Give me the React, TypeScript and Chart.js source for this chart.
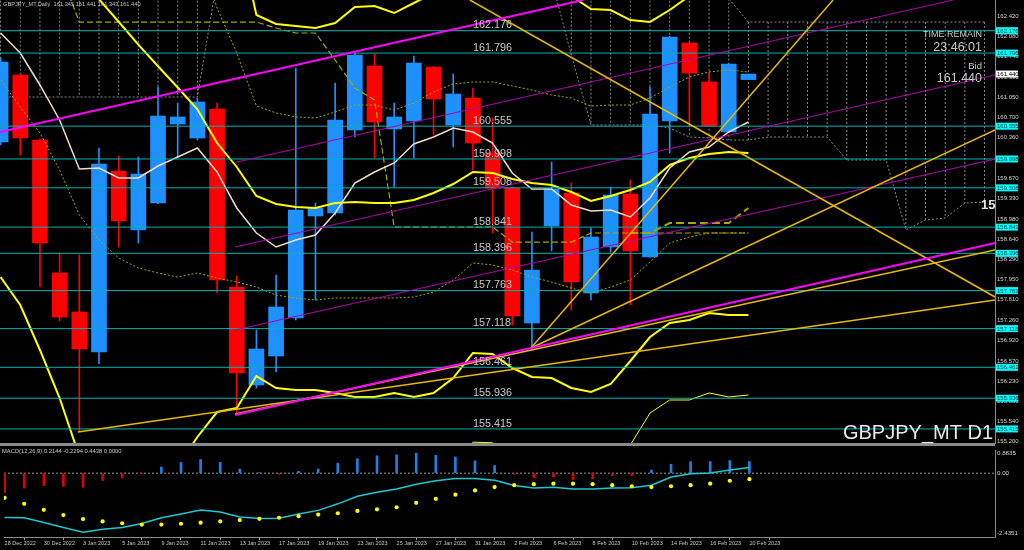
import React, { useEffect, useRef } from "react";
import { Chart, registerables } from "chart.js";
Chart.register(...registerables);

const FONT = "'Liberation Sans', Arial, sans-serif";

// ---------- categories ----------
const dates = ["28 Dec 2022","29 Dec 2022","30 Dec 2022","2 Jan 2023","3 Jan 2023","4 Jan 2023","5 Jan 2023","6 Jan 2023","9 Jan 2023","10 Jan 2023","11 Jan 2023","12 Jan 2023","13 Jan 2023","16 Jan 2023","17 Jan 2023","18 Jan 2023","19 Jan 2023","20 Jan 2023","23 Jan 2023","24 Jan 2023","25 Jan 2023","26 Jan 2023","27 Jan 2023","30 Jan 2023","31 Jan 2023","1 Feb 2023","2 Feb 2023","3 Feb 2023","6 Feb 2023","7 Feb 2023","8 Feb 2023","9 Feb 2023","10 Feb 2023","13 Feb 2023","14 Feb 2023","15 Feb 2023","16 Feb 2023","17 Feb 2023","20 Feb 2023"];

// ---------- OHLC ----------
const opens = [160.286,161.424,160.320,158.062,157.400,156.721,159.794,158.792,159.250,160.592,160.354,160.846,157.824,156.161,156.653,157.298,159.030,159.081,160.490,161.576,160.507,160.643,161.559,160.575,161.033,160.099,159.505,157.213,158.860,159.420,157.722,158.503,159.403,158.334,160.643,161.967,161.305,160.456,161.345];
const highs = [161.712,161.440,160.340,158.402,158.368,160.184,160.048,160.031,161.220,160.948,161.033,160.948,158.011,157.094,158.028,161.542,159.250,161.288,161.797,161.780,160.948,161.746,161.570,161.441,161.203,160.694,159.520,158.758,159.947,159.590,158.826,159.522,159.641,161.220,162.080,161.980,161.475,161.620,161.441];
const lows = [160.235,160.065,157.824,157.247,155.362,156.517,158.504,158.571,159.240,160.031,160.320,157.722,155.651,156.110,156.381,157.264,157.604,159.047,160.371,160.014,159.522,160.014,160.405,160.201,159.811,158.741,157.179,156.755,158.436,157.434,157.604,158.419,157.519,158.330,160.099,160.575,160.550,160.450,161.343];
const closes = [161.644,160.354,158.571,157.315,156.772,159.913,158.945,159.743,160.728,160.711,160.965,157.943,156.364,156.772,157.485,159.132,159.166,160.660,161.763,160.626,160.711,161.627,161.016,161.101,160.269,159.505,157.332,158.111,159.488,157.909,158.673,159.386,158.436,160.761,162.069,161.458,160.558,161.610,161.440];

// ---------- indicators ----------
const maFast = [162.137,161.797,161.254,160.660,159.828,159.845,159.675,159.675,159.879,160.031,160.184,159.777,159.166,158.741,158.503,158.622,158.707,159.081,159.590,159.777,159.930,160.252,160.371,160.524,160.456,160.269,159.760,159.488,159.488,159.217,159.115,159.132,159.013,159.335,159.845,160.116,160.201,160.456,160.626];
const bbMid = [164.56,164.22,163.85,163.46,163.07,162.71,162.328,161.938,161.573,161.211,160.841,160.269,159.862,159.369,159.234,159.183,159.166,159.250,159.268,159.250,159.250,159.301,159.420,159.573,159.777,159.760,159.658,159.590,159.556,159.437,159.284,159.369,159.471,159.607,159.896,160.014,160.082,160.116,160.099];
const bbUp2 = [null,null,null,null,null,null,null,null,null,null,null,164.836,163.953,162.442,162.290,162.256,162.222,162.307,162.578,162.595,162.476,162.646,162.816,162.867,162.850,162.833,162.867,162.884,162.833,162.765,162.544,162.527,162.357,162.324,162.527,162.765,162.782,162.884,162.850];
const bbLow2 = [157.994,157.519,156.755,155.940,154.950,154.530,154.310,154.360,154.550,154.780,155.278,155.702,155.770,156.313,156.110,156.076,156.076,156.025,155.957,155.957,156.025,155.957,156.025,156.279,156.704,156.687,156.449,156.296,156.279,156.110,156.042,156.177,156.568,156.975,157.213,157.264,157.383,157.349,157.349];
const bbUp1 = [null,null,null,null,null,null,null,null,null,null,163.620,162.561,161.797,160.897,160.779,160.711,160.694,160.796,160.914,160.914,160.829,160.948,161.135,161.271,161.305,161.305,161.237,161.169,161.084,161.033,160.897,160.914,160.914,161.033,161.220,161.390,161.475,161.509,161.475];
const bbLow1 = [161.339,160.880,160.439,159.811,159.047,158.622,158.317,158.147,158.062,157.994,158.062,157.977,157.909,157.824,157.688,157.638,157.604,157.638,157.638,157.638,157.638,157.655,157.739,157.943,158.232,158.198,158.113,157.994,157.909,157.807,157.722,157.824,157.943,158.249,158.571,158.673,158.741,158.741,158.741];
const bbLow3 = [null,null,null,null,null,null,null,null,null,null,null,null,null,null,null,null,null,null,null,null,null,null,154.320,154.632,155.190,155.180,154.853,154.650,154.640,154.440,154.420,154.580,155.142,155.685,155.906,155.906,156.025,155.957,155.991];
const kijun = [null,null,null,163.2,162.323,162.323,162.323,162.323,162.323,162.323,162.323,162.323,162.323,162.323,162.222,162.137,162.137,161.678,161.203,161.000,158.843,158.843,158.843,158.843,158.843,158.843,158.588,158.588,158.588,158.588,158.741,158.741,158.741,158.741,158.741,158.741,158.741,158.741,158.741];
const tenkan = [null,null,null,null,null,null,null,null,null,null,null,null,null,null,null,null,null,null,null,null,null,null,null,null,null,null,null,null,null,null,null,null,158.741,158.741,158.911,158.911,158.911,158.911,159.166];
const cloudTop = [163.5,163.5,163.5,163.5,163.5,163.5,163.5,163.5,163.5,163.5,163.5,null,null,null,null,null,null,null,null,null,null,null,null,null,null,null,null,null,163.5,163.5,163.5,163.5,163.5,163.5,163.5,163.5,163.5,162.72,162.323,162.323,162.323,162.323,162.323,162.323,162.323,162.323,162.323,162.323,162.323,162.323,162.323];
const cloudBot = [161.05,161.05,161.05,161.05,161.05,161.05,161.05,161.05,161.05,161.05,161.05,163.04,null,null,null,null,null,null,null,null,null,null,null,null,null,null,null,null,163.04,161.763,160.575,160.575,160.575,160.575,160.524,160.371,160.354,160.320,160.320,160.371,160.371,160.371,160.371,159.980,159.980,159.980,158.792,158.962,158.996,159.250,159.267];

// ---------- horizontal levels & trend lines (bar index, price) ----------
const levels = [162.176,161.796,160.555,159.998,159.508,158.841,158.396,157.763,157.118,156.461,155.936,155.415];
const bidPrice = 161.440;
const magentaThick = [[[-0.03,160.456],[29.59,162.697]],[[11.91,155.651],[50.53,158.571]]];
const magentaThin = [[[11.91,159.938],[48.39,162.697]],[[11.91,158.503],[50.53,161.424]],[[11.91,157.094],[50.53,159.997]]];
const goldLines = [[[11.91,155.668],[50.53,158.452]],[[3.93,155.362],[50.53,157.604]],[[26.95,156.789],[42.30,162.697]],[[26.95,156.789],[50.53,160.490]],[[23.85,162.697],[50.53,157.655]]];

// ---------- MACD ----------
const macdHist = [-0.73,-0.57,-0.47,-0.50,-0.54,-0.28,-0.18,-0.03,0.23,0.41,0.52,0.41,0.15,0.01,-0.04,0.07,0.16,0.38,0.55,0.66,0.70,0.76,0.68,0.62,0.47,0.29,-0.04,-0.18,-0.14,-0.25,-0.21,-0.10,-0.09,0.12,0.34,0.44,0.44,0.48,0.4438];
const macdLine = [-1.69,-1.70,-1.88,-2.07,-2.25,-2.14,-2.07,-1.92,-1.70,-1.56,-1.41,-1.48,-1.67,-1.73,-1.72,-1.56,-1.42,-1.17,-0.88,-0.73,-0.60,-0.42,-0.29,-0.20,-0.20,-0.27,-0.47,-0.57,-0.54,-0.60,-0.60,-0.57,-0.56,-0.46,-0.15,-0.02,0.01,0.12,0.2144];
const macdSignal = [-0.94,-1.17,-1.40,-1.60,-1.75,-1.84,-1.91,-1.96,-1.96,-1.93,-1.89,-1.84,-1.79,-1.74,-1.70,-1.64,-1.58,-1.53,-1.44,-1.38,-1.30,-1.13,-0.98,-0.82,-0.66,-0.53,-0.46,-0.42,-0.40,-0.40,-0.42,-0.46,-0.50,-0.53,-0.50,-0.46,-0.40,-0.29,-0.2294];
const macdAxisValues = [0.8835, 0, -2.4351];
const macdAxisLabels = ["0.8835", "0.00", "-2.4351"];

// ---------- axis ticks / texts ----------
const priceTicks = [162.42,162.08,161.74,161.39,161.05,160.70,160.36,160.01,159.67,159.33,158.98,158.64,158.29,157.95,157.61,157.26,156.92,156.57,156.23,155.88,155.54,155.20];
const dateTickBars = dates.map((_, i) => i).filter((i) => i % 2 === 0);
const headerText = "GBPJPY_MT,Daily  161.345 161.441 161.343 161.440";
const macdTitle = "MACD(12,26,9) 0.2144 -0.2294 0.4438 0.0000";
const symbolText = "GBPJPY_MT D1";
const timeRemainText = ["TIME REMAIN", "23:46:01", "Bid", "161.440"];
const levelLabelBar = 24;

const X_MIN = -0.03, X_MAX = 50.53;
const P_MIN = 155.176, P_MAX = 162.697;
const M_MIN = -2.4351, M_MAX = 0.8835;

const BULL = "#1E90FF", BEAR = "#FF0000";

const pts = (arr: (number | null)[]) => arr.map((y, i) => ({ x: i, y }));
const seg = (s: number[][]) => s.map(([x, y]) => ({ x, y }));
const lineDs = (data: any[], color: string, width: number, order: number, dash: number[] = []) => ({
  type: "line", data, borderColor: color, borderWidth: width, borderDash: dash,
  pointRadius: 0, fill: false, tension: 0, spanGaps: false, order, clip: 0,
});

// clip every dataset strictly to the plot area
const areaClip = {
  id: "areaClip",
  beforeDatasetsDraw(chart: any) {
    const { ctx, chartArea: a } = chart;
    ctx.save();
    ctx.beginPath();
    ctx.rect(a.left, a.top, a.right - a.left, a.bottom - a.top);
    ctx.clip();
  },
  afterDatasetsDraw(chart: any) {
    chart.ctx.restore();
  },
};

function mainConfig(): any {
  const isBull = (i: number) => closes[i] >= opens[i];
  const hatch: any[] = [];
  cloudTop.forEach((t, i) => {
    const b = cloudBot[i];
    if (t != null && b != null) hatch.push({ x: i, y: t }, { x: i, y: b }, { x: i, y: null });
  });
  const datasets: any[] = [
    lineDs(hatch, "#8a8a8a", 1, 120, [2, 2]),
    lineDs(pts(cloudTop), "#8a8a8a", 1, 119, [2, 2]),
    lineDs(pts(cloudBot), "#8a8a8a", 1, 119, [2, 2]),
    {
      type: "bar", data: highs.map((h, i) => ({ x: i, y: [lows[i], h] })),
      backgroundColor: highs.map((_, i) => (isBull(i) ? BULL : BEAR)),
      barThickness: 1, grouped: false, order: 101, clip: 0,
    },
    {
      type: "bar", data: opens.map((o, i) => ({ x: i, y: [o, closes[i]] })),
      backgroundColor: opens.map((_, i) => (isBull(i) ? BULL : BEAR)),
      barThickness: 15, grouped: false, order: 100, clip: 0,
    },
    lineDs(pts(bbUp1), "#A8A800", 1, 80, [2, 2]),
    lineDs(pts(bbLow1), "#A8A800", 1, 80, [2, 2]),
    lineDs(pts(kijun), "#A8A800", 1.2, 79, [6, 3]),
    lineDs(pts(tenkan), "#A8A800", 2, 78, [8, 4]),
    lineDs(pts(bbLow3), "#FFFF00", 1, 75),
    lineDs(pts(bbMid), "#FFFF00", 2, 74),
    lineDs(pts(bbUp2), "#FFFF00", 2, 74),
    lineDs(pts(bbLow2), "#FFFF00", 2, 74),
    lineDs(pts(maFast), "#F2DCC8", 1.5, 73),
    ...levels.map((v) => lineDs([{ x: X_MIN, y: v }, { x: X_MAX, y: v }], "#00B2B2", 1, 60)),
    ...magentaThin.map((s) => lineDs(seg(s), "#B000B0", 1, 52)),
    ...goldLines.map((s) => lineDs(seg(s), "#E8B800", 1.5, 51)),
    ...magentaThick.map((s) => lineDs(seg(s), "#FF00FF", 2, 50)),
  ];

  const decor = {
    id: "mainDecor",
    afterDraw(chart: any) {
      const { ctx, chartArea, scales } = chart;
      const xs = scales.x, ys = scales.y;
      ctx.save();
      ctx.fillStyle = "#8a8a8a";
      ctx.fillRect(0, chartArea.bottom, chartArea.right, 3);

      ctx.textAlign = "left";
      ctx.textBaseline = "alphabetic";
      ctx.fillStyle = "#c8c8c8";
      ctx.font = `10.8px ${FONT}`;
      const lx = xs.getPixelForValue(levelLabelBar);
      levels.forEach((v) => ctx.fillText(v.toFixed(3), lx, ys.getPixelForValue(v) - 2.4));

      ctx.textBaseline = "middle";
      ctx.font = `5.7px ${FONT}`;
      ctx.fillStyle = "#c0c0c0";
      ctx.fillText(headerText, 3, 4.5);

      ctx.textAlign = "right";
      ctx.fillStyle = "#c8c8c8";
      const tr: [number, number][] = [[9, 35], [12.5, 48], [9.5, 66], [12.5, 79]];
      timeRemainText.forEach((t, i) => {
        ctx.font = `${tr[i][0]}px ${FONT}`;
        ctx.fillText(t, 982, tr[i][1]);
      });

      ctx.font = `20px ${FONT}`;
      ctx.fillStyle = "#e8e8e8";
      ctx.textBaseline = "alphabetic";
      ctx.fillText(symbolText, 993, 439);

      ctx.save();
      ctx.beginPath();
      ctx.rect(chartArea.left, chartArea.top, chartArea.right - chartArea.left, chartArea.bottom - chartArea.top);
      ctx.clip();
      ctx.textAlign = "left";
      ctx.textBaseline = "middle";
      ctx.font = `bold 13px ${FONT}`;
      ctx.fillStyle = "#f2ead8";
      ctx.fillText("15", 981, 205);
      ctx.restore();

      ctx.textAlign = "left";
      ctx.textBaseline = "middle";
      ctx.font = `6px ${FONT}`;
      const ax = chartArea.right + 1;
      levels.forEach((v) => {
        const y = ys.getPixelForValue(v);
        ctx.fillStyle = "#00FFFF";
        ctx.fillRect(ax, y - 3.5, 22, 7);
        ctx.fillStyle = "#004040";
        ctx.fillText(v.toFixed(3), ax + 1, y + 0.3);
      });
      const by = ys.getPixelForValue(bidPrice);
      ctx.fillStyle = "#FFFFFF";
      ctx.fillRect(ax, by - 3.5, 22, 7);
      ctx.fillStyle = "#000000";
      ctx.fillText(bidPrice.toFixed(3), ax + 1, by + 0.3);
      ctx.restore();
    },
  };

  return {
    type: "bar",
    data: { datasets },
    plugins: [areaClip, decor],
    options: {
      animation: false, responsive: false, maintainAspectRatio: false, events: [],
      layout: { padding: { left: 0, right: 0, top: 0, bottom: 3 } },
      plugins: { legend: { display: false }, tooltip: { enabled: false } },
      scales: {
        x: {
          type: "linear", min: X_MIN, max: X_MAX, offset: false, display: true, position: "bottom",
          afterFit: (s: any) => { s.height = 0; s.paddingLeft = 0; s.paddingRight = 0; },
          ticks: { display: false },
          grid: { display: false, drawTicks: false },
          border: { display: false },
        },
        y: {
          type: "linear", position: "right", min: P_MIN, max: P_MAX, beginAtZero: false,
          afterBuildTicks: (s: any) => { s.ticks = priceTicks.map((v) => ({ value: v })); },
          afterFit: (s: any) => { s.width = 29; s.paddingTop = 0; s.paddingBottom = 0; },
          ticks: { callback: (v: any) => Number(v).toFixed(3), font: { size: 6, family: FONT }, color: "#d0d0d0", padding: 2, autoSkip: false },
          grid: { display: true, drawOnChartArea: false, drawTicks: false },
          border: { display: true, color: "#8a8a8a", width: 1 },
        },
      },
    },
  };
}

function macdConfig(): any {
  const datasets: any[] = [
    lineDs([{ x: X_MIN, y: 0 }, { x: X_MAX, y: 0 }], "#9a9a9a", 1, 50, [2, 2]),
    {
      type: "bar", data: pts(macdHist),
      backgroundColor: macdHist.map((v) => (v >= 0 ? "#1E7FE6" : "#E00000")),
      barThickness: 2, grouped: false, order: 40, clip: 0,
    },
    lineDs(pts(macdLine), "#1CC8D0", 1.5, 30),
    {
      type: "line", data: pts(macdSignal), showLine: false, pointRadius: 2.1,
      pointBackgroundColor: "#FFFF00", pointBorderWidth: 0, order: 20,
    },
  ];
  const decor = {
    id: "macdDecor",
    afterDraw(chart: any) {
      const { ctx, chartArea, scales } = chart;
      const ys = scales.y;
      ctx.save();
      ctx.textAlign = "left";
      ctx.textBaseline = "middle";
      ctx.fillStyle = "#c8c8c8";
      ctx.font = `5.8px ${FONT}`;
      ctx.fillText(macdTitle, 2, 5);
      ctx.font = `6.2px ${FONT}`;
      ctx.fillStyle = "#d0d0d0";
      const shift = [3, 0, -4];
      macdAxisValues.forEach((v, i) => {
        ctx.fillText(macdAxisLabels[i], chartArea.right + 2, ys.getPixelForValue(v) + shift[i]);
      });
      ctx.restore();
    },
  };
  return {
    type: "bar",
    data: { datasets },
    plugins: [areaClip, decor],
    options: {
      animation: false, responsive: false, maintainAspectRatio: false, events: [],
      layout: { padding: 0 },
      plugins: { legend: { display: false }, tooltip: { enabled: false } },
      scales: {
        x: {
          type: "linear", min: X_MIN, max: X_MAX, offset: false, position: "bottom",
          afterBuildTicks: (s: any) => { s.ticks = dateTickBars.map((v) => ({ value: v })); },
          afterFit: (s: any) => { s.height = 13; s.paddingLeft = 0; s.paddingRight = 0; },
          ticks: {
            callback: (v: any) => dates[v] ?? "", font: { size: 5.5, family: FONT }, color: "#c8c8c8",
            padding: 0, align: "start", maxRotation: 0, minRotation: 0, autoSkip: false,
          },
          grid: { display: true, drawOnChartArea: false, drawTicks: true, tickLength: 3, color: "#9a9a9a" },
          border: { display: true, color: "#8a8a8a", width: 1 },
        },
        y: {
          type: "linear", position: "right", min: M_MIN, max: M_MAX, beginAtZero: false,
          afterFit: (s: any) => { s.width = 29; s.paddingTop = 0; s.paddingBottom = 0; },
          ticks: { display: false },
          grid: { display: true, drawOnChartArea: false, drawTicks: false },
          border: { display: true, color: "#8a8a8a", width: 1 },
        },
      },
    },
  };
}

export default function App() {
  const mainRef = useRef<HTMLCanvasElement>(null);
  const macdRef = useRef<HTMLCanvasElement>(null);
  useEffect(() => {
    const c1 = new Chart(mainRef.current as HTMLCanvasElement, mainConfig());
    const c2 = new Chart(macdRef.current as HTMLCanvasElement, macdConfig());
    return () => { c1.destroy(); c2.destroy(); };
  }, []);
  return (
    <div style={{ position: "fixed", left: 0, top: 0, width: 1024, height: 550, background: "#000", overflow: "hidden" }}>
      <canvas ref={mainRef} width={1024} height={446} style={{ position: "absolute", left: 0, top: 0, width: 1024, height: 446 }} />
      <canvas ref={macdRef} width={1024} height={104} style={{ position: "absolute", left: 0, top: 446, width: 1024, height: 104 }} />
    </div>
  );
}
